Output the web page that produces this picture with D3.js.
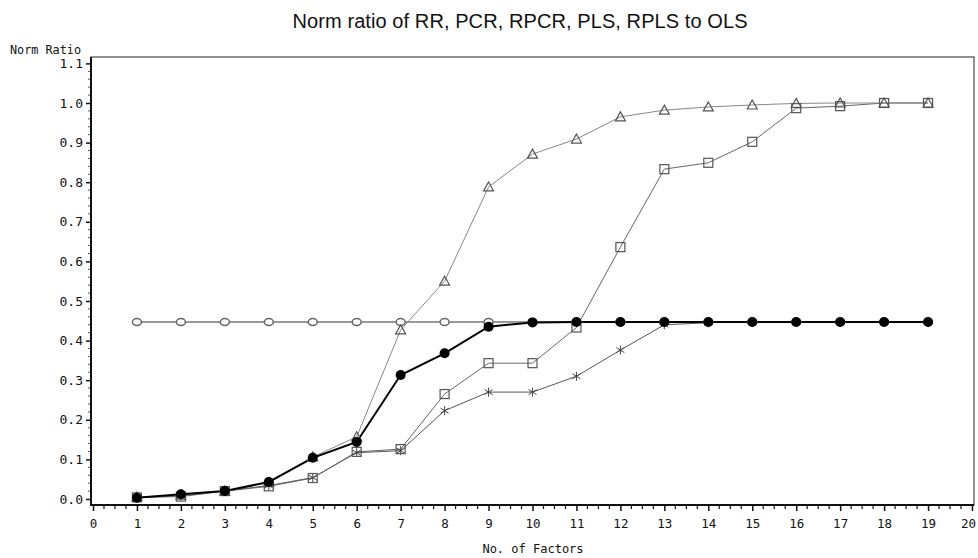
<!DOCTYPE html>
<html><head><meta charset="utf-8">
<script src="https://cdn.jsdelivr.net/npm/d3@7"></script>
<style>body{margin:0;background:#fff}svg{display:block}</style>
</head><body>
<svg id="c" width="978" height="558"></svg>
<script>
const factors = d3.range(1, 20);
const rrOpen   = [0.447,0.447,0.447,0.447,0.447,0.447,0.447,0.447,0.447,0.447,0.447,0.447,0.447,0.447,0.447,0.447,0.447,0.447,0.447];
const filled   = [0.003,0.012,0.020,0.043,0.104,0.144,0.313,0.368,0.435,0.446,0.447,0.447,0.447,0.447,0.447,0.447,0.447,0.447,0.447];
const triangle = [0.005,0.010,0.020,0.042,0.106,0.157,0.427,0.550,0.788,0.871,0.909,0.965,0.982,0.990,0.995,0.999,1.000,1.000,1.000];
const square   = [0.004,0.006,0.020,0.032,0.053,0.119,0.126,0.265,0.343,0.343,0.433,0.636,0.833,0.849,0.902,0.987,0.992,1.000,1.000];
const star     = [0.004,0.008,0.020,0.034,0.054,0.117,0.122,0.223,0.270,0.270,0.310,0.376,0.440,0.445];
const xTicks = d3.range(0, 21);
const yTicks = [0.0,0.1,0.2,0.3,0.4,0.5,0.6,0.7,0.8,0.9,1.0,1.1];

const MONO = "'DejaVu Sans Mono', monospace";
const SANS = "'Liberation Sans', Arial, sans-serif";
const svg = d3.select("#c");
const x = d3.scaleLinear().domain([0, 20]).range([93, 972]);
const y = d3.scaleLinear().domain([0, 1.1]).range([499, 63.4]);
const frame = {l: 91, r: 974, t: 57, b: 505};

// title
svg.append("text").attr("x", 520).attr("y", 28).attr("text-anchor", "middle")
  .style("font-family", SANS).style("font-size", "20px")
  .attr("textLength", 455).attr("lengthAdjust", "spacing")
  .attr("fill", "#111").text("Norm ratio of RR, PCR, RPCR, PLS, RPLS to OLS");

// frame
svg.append("rect").attr("x", frame.l).attr("y", frame.t).attr("width", frame.r - frame.l)
  .attr("height", frame.b - frame.t).attr("fill", "none").attr("stroke", "#222").attr("stroke-width", 1);
svg.append("line").attr("x1", frame.l).attr("x2", frame.l).attr("y1", frame.t).attr("y2", frame.b + 1).attr("stroke", "#111").attr("stroke-width", 2);
svg.append("line").attr("x1", frame.l).attr("x2", frame.r).attr("y1", frame.b).attr("y2", frame.b).attr("stroke", "#111").attr("stroke-width", 2);

// y axis
const yAxis = d3.axisLeft(y).tickValues(yTicks).tickFormat(d3.format(".1f")).tickSize(5).tickPadding(3);
const gy = svg.append("g").attr("transform", `translate(${frame.l},0)`).call(yAxis);
gy.select(".domain").remove();
gy.selectAll("text").style("font-family", MONO).style("font-size", "13px").attr("fill", "#111");
gy.selectAll("line").attr("stroke", "#111").attr("stroke-width", 1.5);
const yMinor = d3.range(0, 1.1, 0.02).filter(v => Math.abs(v * 10 - Math.round(v * 10)) > 1e-6);
svg.append("g").selectAll("line").data(yMinor).join("line")
  .attr("x1", frame.l - 3).attr("x2", frame.l - 1).attr("y1", d => y(d)).attr("y2", d => y(d))
  .attr("stroke", "#555").attr("stroke-width", 1);

// x axis
const xAxis = d3.axisBottom(x).tickValues(xTicks).tickFormat(d3.format("d")).tickSize(6).tickPadding(8);
const gx = svg.append("g").attr("transform", `translate(0,${frame.b})`).call(xAxis);
gx.select(".domain").remove();
gx.selectAll("text").style("font-family", MONO).style("font-size", "12.5px").attr("fill", "#111")
  .attr("dx", d => d === 20 ? -4 : 0);
gx.selectAll("line").attr("stroke", "#111").attr("stroke-width", 1.5);
const xMinor = d3.range(0, 20, 0.25).filter(v => v % 1 !== 0);
svg.append("g").selectAll("line").data(xMinor).join("line")
  .attr("x1", d => x(d)).attr("x2", d => x(d)).attr("y1", frame.b).attr("y2", frame.b + 4)
  .attr("stroke", "#111").attr("stroke-width", 1.2);

// axis labels
svg.append("text").attr("x", 10).attr("y", 54).style("font-family", MONO).style("font-size", "11.8px")
  .attr("fill", "#111").text("Norm Ratio");
svg.append("text").attr("x", 533).attr("y", 553).attr("text-anchor", "middle")
  .style("font-family", MONO).style("font-size", "12px").attr("fill", "#111").text("No. of Factors");

const line = d3.line().x((d, i) => x(factors[i])).y(d => y(d));
function drawLine(vals, color, w) {
  svg.append("path").datum(vals).attr("d", line).attr("fill", "none").attr("stroke", color).attr("stroke-width", w);
}
const pts = vals => vals.map((v, i) => ({x: factors[i], v}));

// lines
drawLine(rrOpen, "#999", 2);
drawLine(star, "#555", 1);
drawLine(square, "#666", 1);
drawLine(triangle, "#888", 1);
drawLine(filled, "#000", 2);

// markers
svg.append("g").selectAll("ellipse").data(pts(rrOpen)).join("ellipse")
  .attr("cx", d => x(d.x)).attr("cy", d => y(d.v)).attr("rx", 4.5).attr("ry", 3.5)
  .attr("fill", "#fff").attr("stroke", "#666").attr("stroke-width", 1.5);
svg.append("g").selectAll("path").data(pts(star)).join("path")
  .attr("transform", d => `translate(${x(d.x)},${y(d.v)})`)
  .attr("d", "M0,-4.5V4.5M-4,-2.5L4,2.5M-4,2.5L4,-2.5").attr("stroke", "#444").attr("stroke-width", 1).attr("fill", "none");
svg.append("g").selectAll("rect").data(pts(square)).join("rect")
  .attr("x", d => x(d.x) - 4.5).attr("y", d => y(d.v) - 4.5).attr("width", 9).attr("height", 9)
  .attr("fill", "none").attr("stroke", "#555").attr("stroke-width", 1.2);
svg.append("g").selectAll("path").data(pts(triangle)).join("path")
  .attr("transform", d => `translate(${x(d.x)},${y(d.v)})`)
  .attr("d", "M0,-5L5,4L-5,4Z").attr("fill", "none").attr("stroke", "#555").attr("stroke-width", 1.2);
svg.append("g").selectAll("circle").data(pts(filled)).join("circle")
  .attr("cx", d => x(d.x)).attr("cy", d => y(d.v)).attr("r", 5).attr("fill", "#000");
</script>
</body></html>
